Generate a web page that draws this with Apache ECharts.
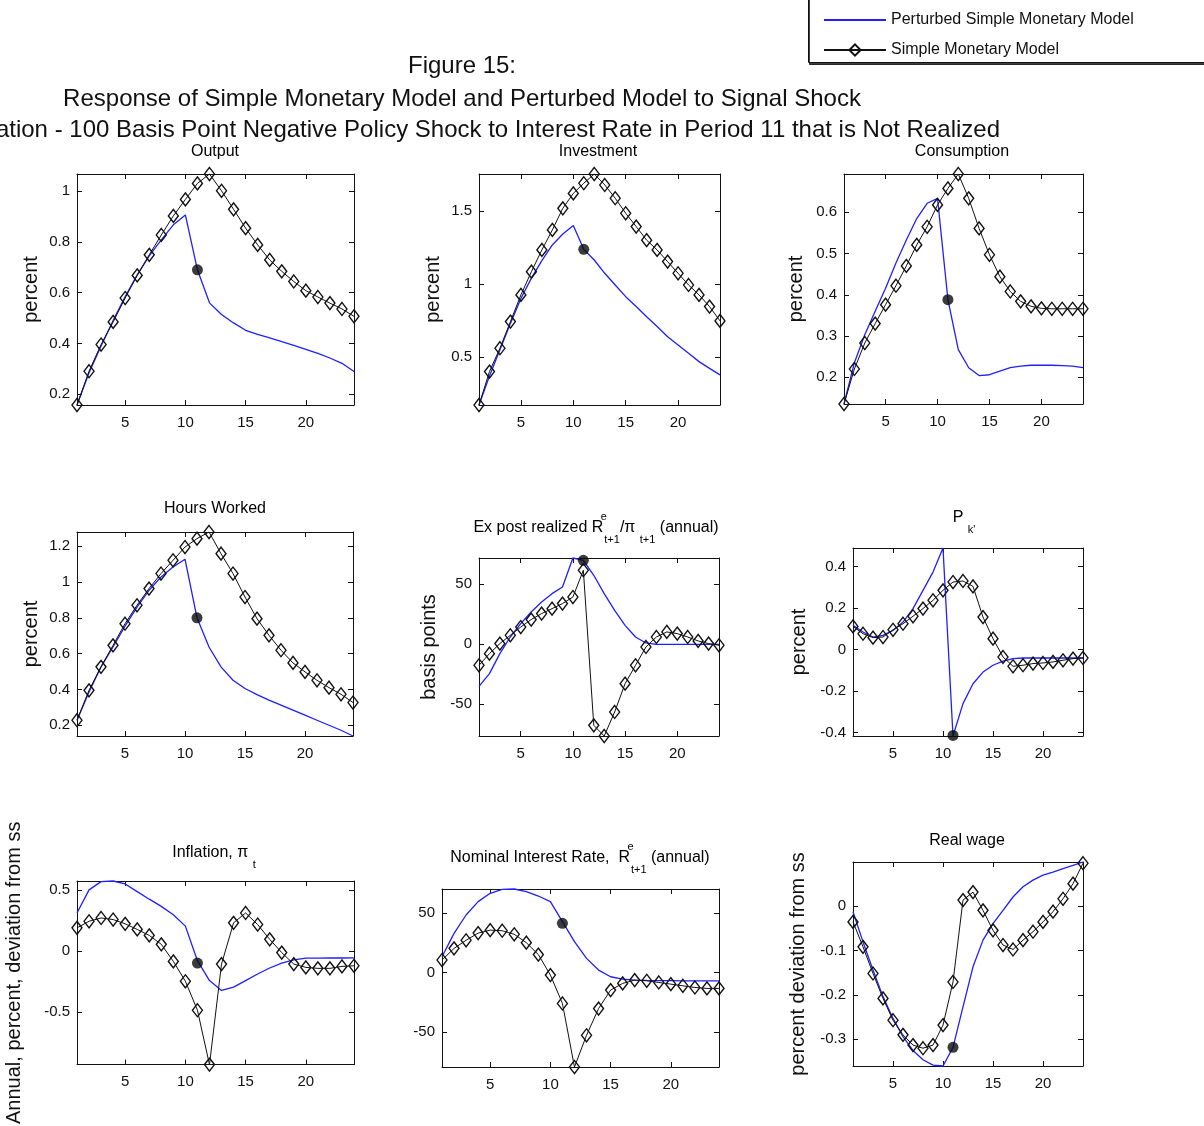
<!DOCTYPE html>
<html>
<head>
<meta charset="utf-8">
<title>Figure 15: Response of Simple Monetary Model and Perturbed Model to Signal Shock</title>
<script src="https://cdn.jsdelivr.net/npm/echarts@6/dist/echarts.min.js"></script>
<style>
  html, body { margin: 0; padding: 0; background: #fff; }
  #chart { width: 1204px; height: 1126px; }
</style>
</head>
<body>
<div id="chart"></div>
<script>
// ---------- data ----------
const periods = [1, 2, 3, 4, 5, 6, 7, 8, 9, 10, 11, 12, 13, 14, 15, 16, 17, 18, 19, 20, 21, 22, 23, 24];
const xTicks = [5, 10, 15, 20];
const signalPeriod = 11;

const outputSimple    = [0.158, 0.291, 0.396, 0.485, 0.579, 0.668, 0.749, 0.827, 0.902, 0.967, 1.030, 1.067, 1.001, 0.928, 0.854, 0.788, 0.729, 0.684, 0.644, 0.608, 0.583, 0.559, 0.536, 0.507];
const outputPerturbed = [0.158, 0.285, 0.390, 0.490, 0.585, 0.670, 0.745, 0.808, 0.867, 0.906, 0.690, 0.560, 0.514, 0.481, 0.452, 0.436, 0.422, 0.407, 0.393, 0.377, 0.361, 0.343, 0.322, 0.290];
const outputSignal = 0.69;
const outputTicks = [0.2, 0.4, 0.6, 0.8, 1];

const investmentSimple    = [0.171, 0.400, 0.560, 0.742, 0.925, 1.084, 1.233, 1.370, 1.518, 1.620, 1.690, 1.753, 1.678, 1.587, 1.484, 1.393, 1.300, 1.233, 1.153, 1.073, 0.993, 0.925, 0.845, 0.747];
const investmentPerturbed = [0.171, 0.370, 0.550, 0.730, 0.900, 1.040, 1.160, 1.267, 1.342, 1.400, 1.237, 1.164, 1.073, 0.993, 0.913, 0.845, 0.776, 0.708, 0.639, 0.582, 0.525, 0.468, 0.422, 0.377];
const investmentSignal = 1.237;
const investmentTicks = [0.5, 1, 1.5];

const consumptionSimple    = [0.135, 0.220, 0.283, 0.330, 0.376, 0.422, 0.470, 0.521, 0.565, 0.618, 0.658, 0.693, 0.634, 0.561, 0.497, 0.444, 0.408, 0.384, 0.372, 0.367, 0.366, 0.366, 0.366, 0.366];
const consumptionPerturbed = [0.135, 0.235, 0.303, 0.360, 0.416, 0.477, 0.533, 0.585, 0.622, 0.634, 0.388, 0.267, 0.223, 0.204, 0.206, 0.215, 0.223, 0.227, 0.229, 0.229, 0.229, 0.228, 0.227, 0.223];
const consumptionSignal = 0.388;
const consumptionTicks = [0.2, 0.3, 0.4, 0.5, 0.6];

const hoursSimple    = [0.228, 0.395, 0.526, 0.646, 0.767, 0.870, 0.963, 1.047, 1.121, 1.195, 1.242, 1.279, 1.158, 1.047, 0.916, 0.795, 0.702, 0.619, 0.548, 0.498, 0.451, 0.410, 0.373, 0.327];
const hoursPerturbed = [0.228, 0.386, 0.526, 0.637, 0.753, 0.860, 0.953, 1.028, 1.084, 1.127, 0.800, 0.637, 0.526, 0.451, 0.405, 0.371, 0.340, 0.312, 0.284, 0.256, 0.228, 0.200, 0.172, 0.140];
const hoursSignal = 0.80;
const hoursTicks = [0.2, 0.4, 0.6, 0.8, 1, 1.2];

const exPostSimple    = [-17.5, -7.8, 0.6, 7.5, 14.4, 20.6, 25.6, 29.7, 33.9, 39.4, 61.7, -67.5, -76.4, -56.4, -32.8, -17.5, -2.2, 6.1, 10.3, 8.9, 6.1, 2.8, 0.6, -0.8];
const exPostPerturbed = [-35.0, -24.4, -7.8, 6.1, 17.2, 26.9, 35.3, 42.2, 47.8, 71.9, 70.0, 57.5, 42.2, 28.3, 15.8, 6.1, 1.1, 0.0, 0.0, 0.0, 0.0, 0.0, 0.0, 0.0];
const exPostSignal = 70;
const exPostTicks = [-50, 0, 50];

const pkSimple    = [0.112, 0.077, 0.058, 0.061, 0.096, 0.125, 0.161, 0.198, 0.238, 0.286, 0.326, 0.331, 0.305, 0.157, 0.053, -0.035, -0.080, -0.075, -0.067, -0.064, -0.059, -0.051, -0.043, -0.040];
const pkPerturbed = [0.117, 0.085, 0.061, 0.069, 0.093, 0.133, 0.198, 0.286, 0.374, 0.490, -0.416, -0.260, -0.164, -0.108, -0.075, -0.055, -0.043, -0.040, -0.040, -0.040, -0.040, -0.040, -0.040, -0.040];
const pkSignal = -0.413;
const pkTicks = [-0.4, -0.2, 0, 0.2, 0.4];

const inflationSimple    = [0.189, 0.243, 0.270, 0.257, 0.222, 0.176, 0.127, 0.054, -0.086, -0.249, -0.486, -0.932, -0.108, 0.230, 0.311, 0.216, 0.095, -0.014, -0.108, -0.135, -0.143, -0.143, -0.127, -0.122];
const inflationPerturbed = [0.311, 0.500, 0.568, 0.573, 0.549, 0.486, 0.424, 0.365, 0.297, 0.203, -0.080, -0.243, -0.324, -0.297, -0.243, -0.189, -0.140, -0.100, -0.073, -0.059, -0.059, -0.058, -0.058, -0.057];
const inflationSignal = -0.10;
const inflationTicks = [-0.5, 0, 0.5];

const nominalSimple    = [10.4, 20.2, 27.0, 33.0, 35.5, 35.0, 32.0, 25.0, 15.0, -2.2, -26.0, -79.3, -52.7, -30.3, -14.8, -9.2, -6.4, -7.0, -8.4, -9.8, -11.2, -12.6, -13.4, -13.4];
const nominalPerturbed = [13.2, 32.8, 48.2, 59.4, 66.4, 69.7, 70.0, 67.8, 64.1, 59.4, 42.6, 25.8, 11.8, 2.0, -3.6, -5.6, -6.4, -6.7, -6.8, -6.9, -7.0, -7.0, -7.0, -7.0];
const nominalSignal = 41.2;
const nominalTicks = [-50, 0, 50];

const realWageSimple    = [-0.036, -0.092, -0.152, -0.208, -0.257, -0.290, -0.313, -0.320, -0.313, -0.268, -0.171, 0.013, 0.031, -0.010, -0.055, -0.088, -0.098, -0.077, -0.058, -0.036, -0.013, 0.016, 0.050, 0.096];
const realWagePerturbed = [-0.013, -0.081, -0.144, -0.204, -0.253, -0.294, -0.325, -0.346, -0.358, -0.360, -0.318, -0.227, -0.137, -0.077, -0.040, -0.010, 0.020, 0.043, 0.058, 0.069, 0.076, 0.084, 0.091, 0.0987];
const realWageSignal = -0.318;
const realWageTicks = [-0.3, -0.2, -0.1, 0];

const seriesNames = ['Perturbed Simple Monetary Model', 'Simple Monetary Model'];

// ---------- layout and styling ----------
const FONT = '"Liberation Sans", Arial, Helvetica, sans-serif';
const INK = '#111';
const BLUE = '#1f1fff';

// title rich-text pieces: m = main, sup = superscript, sub = subscript
const panels = [
  { title: '{m|Output}', perturbed: outputPerturbed, simple: outputSimple, signal: outputSignal, ticks: outputTicks,
    yName: 'percent', box: [77, 174, 277, 231], nameGap: 36, titleAt: [215, 152] },
  { title: '{m|Investment}', perturbed: investmentPerturbed, simple: investmentSimple, signal: investmentSignal, ticks: investmentTicks,
    yName: 'percent', box: [479, 174, 241, 231], nameGap: 36, titleAt: [598, 152] },
  { title: '{m|Consumption}', perturbed: consumptionPerturbed, simple: consumptionSimple, signal: consumptionSignal, ticks: consumptionTicks,
    yName: 'percent', box: [844, 174, 239, 230], nameGap: 38, titleAt: [962, 152] },
  { title: '{m|Hours Worked}', perturbed: hoursPerturbed, simple: hoursSimple, signal: hoursSignal, ticks: hoursTicks,
    yName: 'percent', box: [77, 532, 276, 204], nameGap: 36, titleAt: [215, 509] },
  { title: '{m|Ex post realized R}{sup|e}{sub|t+1}{m|/π }{sub|t+1}{m| (annual)}', perturbed: exPostPerturbed, simple: exPostSimple, signal: exPostSignal, ticks: exPostTicks,
    yName: 'basis points', box: [479, 558, 240, 178], nameGap: 40, titleAt: [596, 528] },
  { title: "{m|P }{sub|k'}", perturbed: pkPerturbed, simple: pkSimple, signal: pkSignal, ticks: pkTicks,
    yName: 'percent', box: [853, 548, 230, 188], nameGap: 44, titleAt: [964, 518] },
  { title: '{m|Inflation, π }{sub|t}', perturbed: inflationPerturbed, simple: inflationSimple, signal: inflationSignal, ticks: inflationTicks,
    yName: 'Annual, percent, deviation from ss', box: [77, 881, 277, 186], nameGap: 53, titleAt: [214, 853] },
  { title: '{m|Nominal Interest Rate,  R}{sup|e}{sub|t+1}{m| (annual)}', perturbed: nominalPerturbed, simple: nominalSimple, signal: nominalSignal, ticks: nominalTicks,
    yName: '', box: [442, 889, 277, 178], nameGap: 40, titleAt: [580, 858] },
  { title: '{m|Real wage}', perturbed: realWagePerturbed, simple: realWageSimple, signal: realWageSignal, ticks: realWageTicks,
    yName: 'percent deviation from ss', box: [853, 862, 230, 204], nameGap: 45, titleAt: [967, 841] }
];

const titleRich = {
  m:   { fontFamily: FONT, fontSize: 16, color: INK, lineHeight: 34, verticalAlign: 'middle' },
  sup: { fontFamily: FONT, fontSize: 11, color: INK, lineHeight: 12, verticalAlign: 'top', width: 1, align: 'left' },
  sub: { fontFamily: FONT, fontSize: 11, color: INK, lineHeight: 12, verticalAlign: 'bottom' }
};

const axisLine = { show: true, onZero: false, lineStyle: { color: INK, width: 1 } };
const tickStyle = (values) => ({ show: true, inside: true, length: 5, customValues: values, lineStyle: { color: INK, width: 1 } });

const grid = [], xAxis = [], yAxis = [], series = [], graphic = [];

panels.forEach((p, i) => {
  const [left, top, width, height] = p.box;
  grid.push({ left, top, width, height, containLabel: false });

  const all = p.perturbed.concat(p.simple);
  const yMin = Math.min(...all);
  const yMax = Math.max(...all);

  // bottom and top x axes (box with ticks on every side)
  xAxis.push({
    type: 'value', gridIndex: i, position: 'bottom', min: periods[0], max: periods[periods.length - 1],
    axisLine, axisTick: tickStyle(xTicks), splitLine: { show: false },
    axisLabel: { customValues: xTicks, margin: 10, color: INK, fontFamily: FONT, fontSize: 15 }
  });
  xAxis.push({
    type: 'value', gridIndex: i, position: 'top', min: periods[0], max: periods[periods.length - 1],
    axisLine, axisTick: tickStyle(xTicks), splitLine: { show: false }, axisLabel: { show: false }
  });
  // left and right y axes
  yAxis.push({
    type: 'value', gridIndex: i, position: 'left', min: yMin, max: yMax,
    axisLine, axisTick: tickStyle(p.ticks), splitLine: { show: false },
    axisLabel: { customValues: p.ticks, margin: 7, color: INK, fontFamily: FONT, fontSize: 15 },
    name: p.yName, nameLocation: 'middle', nameRotate: 90, nameGap: p.nameGap,
    nameTextStyle: { color: INK, fontFamily: FONT, fontSize: 20 }
  });
  yAxis.push({
    type: 'value', gridIndex: i, position: 'right', min: yMin, max: yMax,
    axisLine, axisTick: tickStyle(p.ticks), splitLine: { show: false }, axisLabel: { show: false }
  });

  const ax = 2 * i;
  series.push({
    name: seriesNames[0], type: 'line', xAxisIndex: ax, yAxisIndex: ax,
    data: periods.map((t, k) => [t, p.perturbed[k]]),
    symbol: 'none', clip: false, z: 2,
    lineStyle: { color: BLUE, width: 1.3 }, itemStyle: { color: BLUE }
  });
  series.push({
    name: seriesNames[1], type: 'line', xAxisIndex: ax, yAxisIndex: ax,
    data: periods.map((t, k) => [t, p.simple[k]]),
    symbol: 'diamond', symbolSize: [10, 13], clip: false, z: 3,
    lineStyle: { color: INK, width: 1 },
    itemStyle: { color: 'rgba(255,255,255,0)', borderColor: INK, borderWidth: 1.4 }
  });
  series.push({
    name: 'Signal', type: 'scatter', xAxisIndex: ax, yAxisIndex: ax,
    data: [[signalPeriod, p.signal]],
    symbol: 'circle', symbolSize: 11, clip: false, z: 4,
    itemStyle: { color: '#0a0a0a' }
  });

  graphic.push({
    type: 'text', x: p.titleAt[0], y: p.titleAt[1],
    style: { text: p.title, rich: titleRich, align: 'center', verticalAlign: 'middle' }
  });
});

// figure heading
graphic.push(
  { type: 'text', x: 462, y: 66, style: { text: 'Figure 15:', fontFamily: FONT, fontSize: 24, fill: INK, align: 'center', verticalAlign: 'middle' } },
  { type: 'text', x: 462, y: 99, style: { text: 'Response of Simple Monetary Model and Perturbed Model to Signal Shock', fontFamily: FONT, fontSize: 24, fill: INK, align: 'center', verticalAlign: 'middle' } },
  { type: 'text', x: 1000, y: 130, style: { text: 'ation - 100 Basis Point Negative Policy Shock to Interest Rate in Period 11 that is Not Realized', fontFamily: FONT, fontSize: 24, fill: INK, align: 'right', verticalAlign: 'middle' } },
  // legend frame
  { type: 'rect', z: -1, shape: { x: 808.5, y: -20.5, width: 420, height: 83 },
    style: { fill: '#fff', stroke: INK, lineWidth: 1, shadowColor: 'rgba(0,0,0,0.75)', shadowOffsetX: 1, shadowOffsetY: 2, shadowBlur: 0 } }
);

const chart = echarts.init(document.getElementById('chart'), null, { renderer: 'canvas' });
chart.setOption({
  animation: false,
  backgroundColor: '#fff',
  grid, xAxis, yAxis, series, graphic,
  legend: {
    data: [
      { name: seriesNames[0], itemStyle: { opacity: 0 } },
      { name: seriesNames[1] }
    ],
    orient: 'vertical', left: 818, top: 7, z: 10,
    itemWidth: 62, itemHeight: 14, itemGap: 14, selectedMode: false,
    textStyle: { color: INK, fontFamily: FONT, fontSize: 16, lineHeight: 14 }
  }
});
</script>
</body>
</html>
